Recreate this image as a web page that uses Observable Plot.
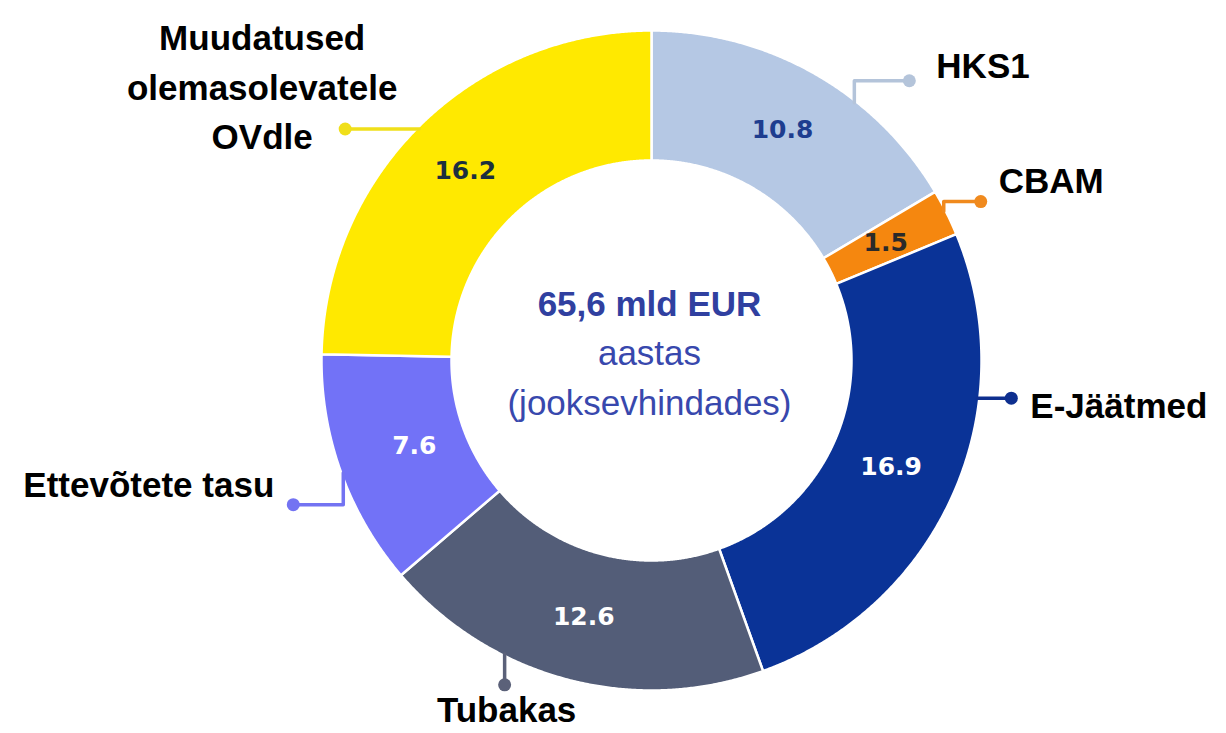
<!DOCTYPE html>
<html><head><meta charset="utf-8">
<script src="https://cdn.jsdelivr.net/npm/d3@7"></script>
<script src="https://cdn.jsdelivr.net/npm/@observablehq/plot@0.6"></script>
<style>html,body{margin:0;padding:0;background:#fff;overflow:hidden;}</style>
</head><body><div id="chart"></div>
<script>
// ---- data ----
const categories = ["HKS1", "CBAM", "E-Jäätmed", "Tubakas", "Ettevõtete tasu", "Muudatused olemasolevatele OVdle"];
const values = [10.8, 1.5, 16.9, 12.6, 7.6, 16.2];
const valueLabels = ["10.8", "1.5", "16.9", "12.6", "7.6", "16.2"];
const outerLabels = ["HKS1", "CBAM", "E-Jäätmed", "Tubakas", "Ettevõtete tasu", "Muudatused\nolemasolevatele\nOVdle"];
const centerTitle = "65,6 mld EUR";
const centerLines = ["aastas", "(jooksevhindades)"];

// ---- styles ----
const sliceColors  = ["#b5c8e4", "#f5870f", "#0a3397", "#535d78", "#7272f7", "#ffe900"];
const valueColors  = ["#1e3d8f", "#2a2a2a", "#ffffff", "#ffffff", "#ffffff", "#1c2f3f"];
const leaderColors = ["#b4c4da", "#f08a1e", "#0e2f8f", "#5b6179", "#7373f2", "#f0df1a"];

// ---- layout ----
const W = 1226, H = 733, cx = 651, cy = 360, R = 330, r0 = 200;
const labelRadius = [265, 262, 262, 265, 252, 266];
const FS = 35;
// leader: attach angle (deg, clockwise from top), elbow steps, text offset from dot (dx, baseline dy), anchor
const leaderLayout = [
  {angle: 38.2, steps: [[0, -22], [55, 0]], tdx: 27, tdy: -7, anchor: "start"},
  {angle: 63.0, steps: [[0, -10], [37, 0]], tdx: 18, tdy: -13, anchor: "start"},
  {angle: 96.6, steps: [[34, 0]], tdx: 19, tdy: 15, anchor: "start"},
  {angle: 206.6, steps: [[0, 31]], tdx: 2, tdy: 33, anchor: "middle"},
  {angle: 250.0, steps: [[0, 32], [-50, 0]], tdx: -19, tdy: -12, anchor: "end"},
  {angle: 314.9, steps: [[-74, 0]], tdx: -83, tdy: -34, anchor: "middle"}
];

const pt = (a, rad) => [cx + rad * Math.sin(a), cy - rad * Math.cos(a)];
const arcs = d3.pie().sort(null).value(d => d)(values);

const sliceMarks = arcs.map((a, i) => {
  const pts = [];
  const n = Math.max(2, Math.ceil((a.endAngle - a.startAngle) / 0.005));
  for (let k = 0; k <= n; k++) {
    const t = a.startAngle + (a.endAngle - a.startAngle) * k / n;
    const [x, y] = pt(t, R); pts.push({x, y});
  }
  for (let k = n; k >= 0; k--) {
    const t = a.startAngle + (a.endAngle - a.startAngle) * k / n;
    const [x, y] = pt(t, r0); pts.push({x, y});
  }
  return Plot.line(pts, {x: "x", y: "y", curve: "linear-closed", fill: sliceColors[i], stroke: "#ffffff", strokeWidth: 2.5});
});

const valueMarks = arcs.map((a, i) => {
  const [x, y] = pt((a.startAngle + a.endAngle) / 2, labelRadius[i]);
  return Plot.text([valueLabels[i]], {x: () => x, y: () => y, text: d => d, fill: valueColors[i],
    fontSize: 25, fontWeight: "bold", fontFamily: "DejaVu Sans", textAnchor: "middle"});
});

const leaderMarks = [];
leaderLayout.forEach((L, i) => {
  let [x, y] = pt(L.angle * Math.PI / 180, R - 2);
  const pts = [{x, y}];
  L.steps.forEach(([dx, dy]) => { x += dx; y += dy; pts.push({x, y}); });
  leaderMarks.push(Plot.line(pts, {x: "x", y: "y", stroke: leaderColors[i], strokeWidth: 3.5}));
  leaderMarks.push(Plot.dot([pts[pts.length - 1]], {x: "x", y: "y", r: 6.5, fill: leaderColors[i]}));
  const tx = x + L.tdx, ty = y + L.tdy - 0.32 * FS;
  leaderMarks.push(Plot.text([outerLabels[i]], {x: () => tx, y: () => ty, text: d => d, fill: "#000",
    fontSize: FS, fontWeight: "bold", fontFamily: "Liberation Sans, Arial, sans-serif",
    textAnchor: L.anchor, lineHeight: 1.41}));
});

const centerMarks = [
  Plot.text([centerTitle], {x: () => cx - 2, y: () => 315 - 0.32 * FS, text: d => d, fill: "#3040a0",
    fontSize: FS, fontWeight: "bold", fontFamily: "Liberation Sans, Arial, sans-serif", textAnchor: "middle"}),
  Plot.text(centerLines, {x: () => cx - 2, y: (d, i) => 364 + i * 50 - 0.32 * FS, text: d => d, fill: "#3848ad",
    fontSize: FS, fontFamily: "Liberation Sans, Arial, sans-serif", textAnchor: "middle"})
];

const chart = Plot.plot({
  width: W, height: H, margin: 0,
  x: {domain: [0, W], range: [0, W], axis: null},
  y: {domain: [0, H], range: [0, H], axis: null},
  marks: [...sliceMarks, ...leaderMarks, ...valueMarks, ...centerMarks]
});
document.getElementById("chart").appendChild(chart);
</script>
</body></html>
